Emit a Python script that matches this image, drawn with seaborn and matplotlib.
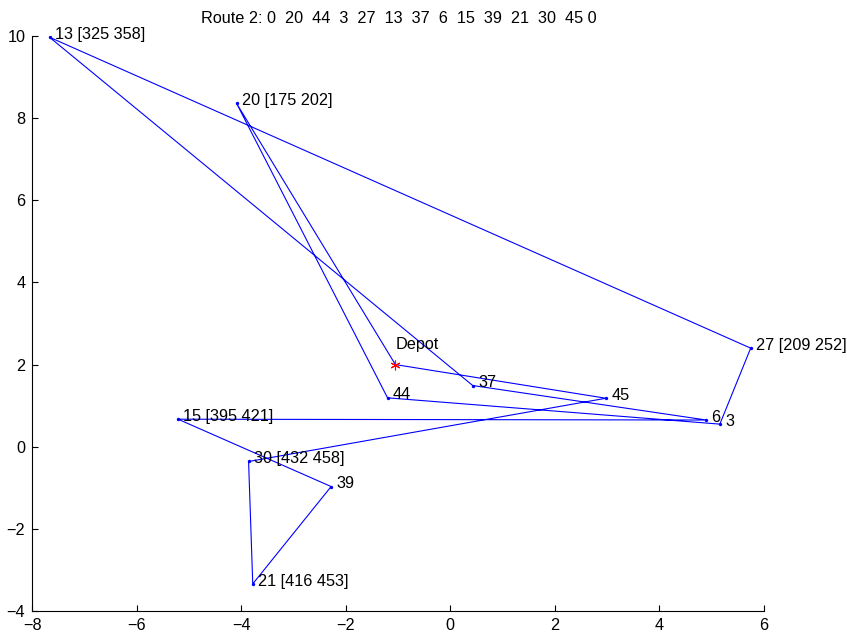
import matplotlib
matplotlib.use("Agg")
import matplotlib.pyplot as plt
import seaborn as sns
import pandas as pd

# ---- data ----
node_ids = [0, 20, 44, 3, 27, 13, 37, 6, 15, 39, 21, 30, 45]
node_x = [-1.05, -4.09, -1.20, 5.16, 5.75, -7.67, 0.43, 4.90, -5.21, -2.28, -3.78, -3.86, 2.98]
node_y = [2.00, 8.36, 1.19, 0.55, 2.40, 9.97, 1.49, 0.65, 0.67, -0.97, -3.34, -0.36, 1.18]
node_windows = {20: "[175 202]", 13: "[325 358]", 27: "[209 252]",
                15: "[395 421]", 30: "[432 458]", 21: "[416 453]"}
route = [0, 20, 44, 3, 27, 13, 37, 6, 15, 39, 21, 30, 45, 0]
title_text = "Route 2: 0  20  44  3  27  13  37  6  15  39  21  30  45 0"
x_ticks = [-8, -6, -4, -2, 0, 2, 4, 6]
y_ticks = [-4, -2, 0, 2, 4, 6, 8, 10]

sns.set_style("white")
plt.rcParams['font.family'] = ['Liberation Sans', 'DejaVu Sans']
plt.rcParams['axes.unicode_minus'] = True
plt.rcParams['text.color'] = 'black'
plt.rcParams['xtick.color'] = 'black'
plt.rcParams['ytick.color'] = 'black'
plt.rcParams['xtick.labelcolor'] = 'black'
plt.rcParams['ytick.labelcolor'] = 'black'

FS = 11.7

pos = {n: (x, y) for n, x, y in zip(node_ids, node_x, node_y)}
route_df = pd.DataFrame({
    "step": range(len(route)),
    "x": [pos[n][0] for n in route],
    "y": [pos[n][1] for n in route],
})
cust_df = pd.DataFrame({
    "x": [pos[n][0] for n in node_ids if n != 0],
    "y": [pos[n][1] for n in node_ids if n != 0],
})

fig = plt.figure(figsize=(8.47, 6.35), dpi=100)
ax = fig.add_axes([0.0381, 0.0378, 0.9017 - 0.0381, 0.9433 - 0.0378])

sns.lineplot(data=route_df, x="x", y="y", sort=False, estimator=None,
             color=(0, 0, 1), linewidth=0.8, ax=ax)
sns.scatterplot(data=cust_df, x="x", y="y", color=(0, 0, 1), s=6,
                edgecolor=None, linewidth=0, ax=ax)
ax.plot(pos[0][0], pos[0][1], marker=(6, 2, 0), color="red",
        markersize=7, markeredgewidth=0.8, linestyle="none")

for n in node_ids:
    x, y = pos[n]
    if n == 0:
        ax.text(x, y + 0.49, "Depot", fontsize=FS, va="center", ha="left")
    else:
        lab = f"{n} {node_windows[n]}" if n in node_windows else f"{n}"
        ax.text(x + 0.1, y + 0.07, lab, fontsize=FS, va="center", ha="left")

ax.set_xlim(-8, 6)
ax.set_ylim(-4, 10)
ax.set_xticks(x_ticks)
ax.set_yticks(y_ticks)
ax.set_xlabel("")
ax.set_ylabel("")
ax.tick_params(direction="in", length=4.5, width=0.8, labelsize=FS,
               bottom=True, left=True, top=False, right=False, pad=5)
for s in ["top", "right"]:
    ax.spines[s].set_visible(False)
for s in ["left", "bottom"]:
    ax.spines[s].set_color("black")
    ax.spines[s].set_linewidth(0.8)

fig.text(0.4705, 0.971, title_text, fontsize=FS, ha="center", va="center")

fig.savefig("out.png", dpi=100)
